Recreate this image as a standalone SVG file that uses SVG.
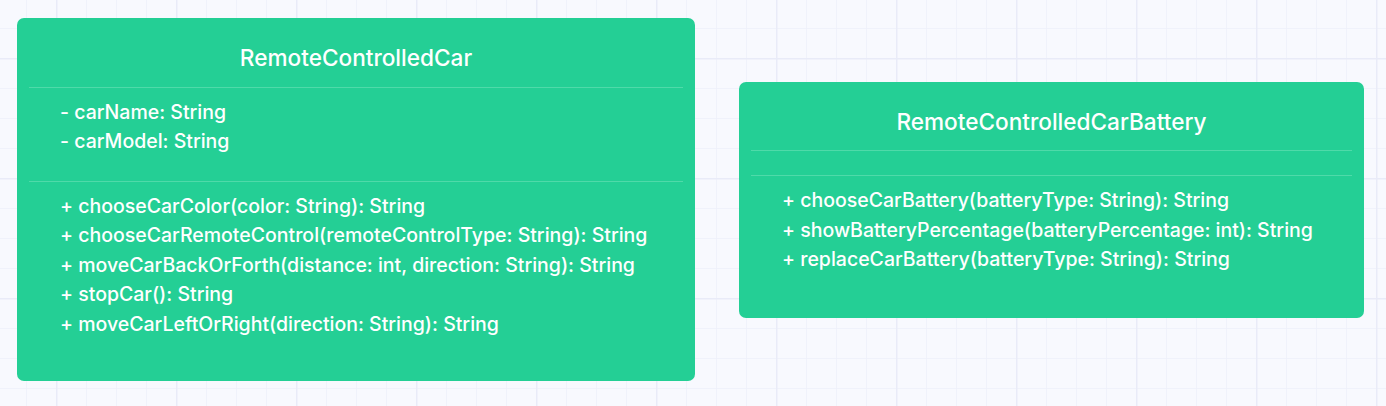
<svg xmlns="http://www.w3.org/2000/svg" width="1386" height="406" viewBox="0 0 1386 406">
<defs>
<pattern id="gridS" width="30" height="30" patternUnits="userSpaceOnUse" x="26" y="28">
<path d="M0 0H30M0 0V30" fill="none" stroke="#eef0fa" stroke-width="1.5"/>
</pattern>
<pattern id="gridL" width="120" height="120" patternUnits="userSpaceOnUse" x="56" y="58">
<path d="M0 0H120M0 0V120" fill="none" stroke="#e9ebf8" stroke-width="3"/>
</pattern>
</defs>
<style>
.box{fill:#24cf95;}
.div{stroke:#4fdaa9;stroke-width:1;}
.title{font-family:Inter,"Liberation Sans",sans-serif;font-size:22.6px;font-weight:500;fill:#ffffff;text-anchor:middle;}
.mem{font-family:Inter,"Liberation Sans",sans-serif;font-size:19.5px;font-weight:500;fill:#ffffff;}
</style>
<rect width="1386" height="406" fill="#f8f9fe"/>
<rect width="1386" height="406" fill="url(#gridS)"/>
<rect width="1386" height="406" fill="url(#gridL)"/>
<g id="connectors"></g>
<g id="RemoteControlledCar">
<rect class="box" x="17" y="18" width="678" height="363" rx="7"/>
<text class="title" x="356" y="66">RemoteControlledCar</text>
<line class="div" x1="29" y1="87.5" x2="683" y2="87.5"/>
<text class="mem" x="60" y="118.5">- carName: String</text>
<text class="mem" x="60" y="148">- carModel: String</text>
<line class="div" x1="29" y1="181.5" x2="683" y2="181.5"/>
<text class="mem" x="60" y="212.5">+ chooseCarColor(color: String): String</text>
<text class="mem" x="60" y="242">+ chooseCarRemoteControl(remoteControlType: String): String</text>
<text class="mem" x="60" y="271.5">+ moveCarBackOrForth(distance: int, direction: String): String</text>
<text class="mem" x="60" y="301">+ stopCar(): String</text>
<text class="mem" x="60" y="330.5">+ moveCarLeftOrRight(direction: String): String</text>
</g>
<g id="RemoteControlledCarBattery">
<rect class="box" x="739" y="82" width="625" height="236" rx="7"/>
<text class="title" x="1051.5" y="130">RemoteControlledCarBattery</text>
<line class="div" x1="751" y1="150.5" x2="1352" y2="150.5"/>
<line class="div" x1="751" y1="175.5" x2="1352" y2="175.5"/>
<text class="mem" x="782" y="207">+ chooseCarBattery(batteryType: String): String</text>
<text class="mem" x="782" y="236.5">+ showBatteryPercentage(batteryPercentage: int): String</text>
<text class="mem" x="782" y="266">+ replaceCarBattery(batteryType: String): String</text>
</g>
</svg>
